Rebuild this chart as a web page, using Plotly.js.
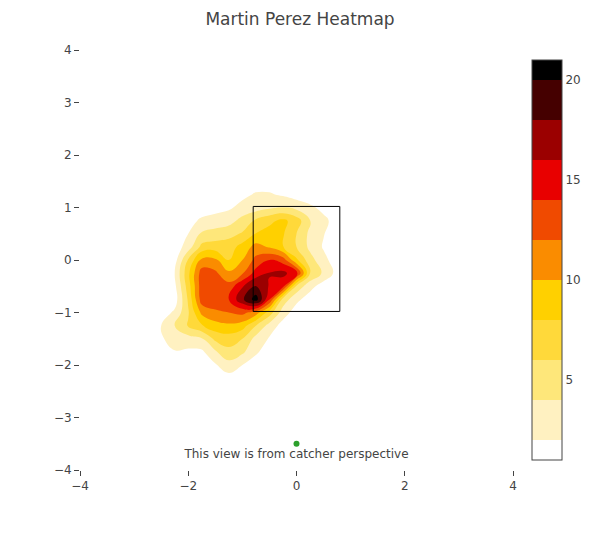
<!DOCTYPE html>
<html>
<head>
<meta charset="utf-8">
<script src="https://cdn.plot.ly/plotly-3.0.1.min.js"></script>
<style>html,body{margin:0;padding:0;background:#fff}</style>
</head>
<body>
<div id="chart" style="width:600px;height:550px"></div>
<script>
const gridX = [-2.75,-2.5,-2.25,-2,-1.75,-1.5,-1.25,-1,-0.75,-0.5,-0.25,0,0.25,0.5,0.75,1];
const gridY = [-2.5,-2.25,-2,-1.75,-1.5,-1.25,-1,-0.75,-0.5,-0.25,0,0.25,0.5,0.75,1,1.25,1.5];
const density = [
 [0,0,0,0,0,0,0.2,0.2,0.1,0,0,0,0,0,0,0],
 [0,0,0,0,0.1,0.5,1.2,0.7,0.3,0.1,0,0,0,0,0,0],
 [0,0,0,0.2,0.7,1.8,3.2,2,1,0.4,0.1,0,0,0,0,0],
 [0,0.6,1.9,1.6,1.6,3.7,5.4,4.4,2.3,1,0.4,0,0,0,0,0],
 [0.4,1.8,2.7,3.2,3.8,6.5,7,6,3.3,1.8,0.8,0.2,0,0,0,0],
 [0.5,2,4,6.2,7.8,9.2,9.6,8.9,6,3.2,1.2,0.4,0,0,0,0],
 [0.1,0.8,2.4,5.8,10.5,11.6,12,12.6,11,7,3,1,0.3,0,0,0],
 [0,0.2,1,6.3,13,13.4,14,17.6,21,14,5.2,2.5,1,0.3,0,0],
 [0,0.2,1.5,7,13.2,13.6,12.8,15.8,18.2,15.8,14.6,5.5,2.7,1,0.3,0],
 [0,0.2,2,7.5,13,12.4,10.4,11.8,14.8,16.1,16.6,14.6,6,3.6,1.3,0.2],
 [0,0.1,1.2,6.2,10.5,10.4,8,10,12.6,14,13,8.4,4.8,2.6,0.9,0.1],
 [0,0,0.8,3,6.6,7,7,8.8,10.7,9.8,8.1,6,3.5,1.8,0.6,0],
 [0,0,0.2,2,4.3,4.8,5.4,6.2,8.1,8.8,8.2,6,3.5,2.1,0.8,0],
 [0,0,0,1.2,2.4,2.8,3.2,4.7,6.3,7.5,8.5,7,4.1,2.6,1,0],
 [0,0,0,0.2,0.8,1.3,1.7,2.6,3,3.6,4,3.4,2.5,1.3,0.3,0],
 [0,0,0,0,0,0.2,0.6,1.5,2.2,2.2,1.7,1,0.4,0,0,0],
 [0,0,0,0,0,0,0.1,0.4,0.9,0.9,0.4,0.1,0,0,0,0]
];
const bandColors = ['#ffffff','#fff1c1','#fee77a','#ffd93a','#ffd000','#fa8c00','#f04a00','#e80000','#9b0000','#450000','#000000'];
const pointX = [0];
const pointY = [-3.5];
const pointText = ['This view is from catcher perspective'];
const zoneX = [-0.8, 0.8];
const zoneY = [-0.98, 1.02];
const axisRange = [-4, 4];

const scale = bandColors.map((c, i) => [i / (bandColors.length - 1), c]);

Plotly.newPlot('chart', [
  {
    type: 'contour', x: gridX, y: gridY, z: density,
    colorscale: scale, zmin: 1, zmax: 21,
    autocontour: false,
    contours: {start: 2, end: 20, size: 2, coloring: 'fill', showlines: false},
    line: {width: 0, smoothing: 1.3},
    colorbar: {thickness: 30}
  },
  {
    type: 'scatter', mode: 'markers+text', x: pointX, y: pointY, text: pointText,
    textposition: 'bottom center', marker: {color: '#2ca02c', size: 6},
    textfont: {size: 12, color: '#444'}, showlegend: false
  }
], {
  width: 600, height: 550,
  font: {family: 'DejaVu Sans, Verdana, sans-serif', color: '#444'},
  title: {text: 'Martin Perez Heatmap'},
  margin: {t: 50, b: 80, l: 80, r: 80},
  xaxis: {range: axisRange, showgrid: false, zeroline: false, showline: false, ticks: 'outside', tickvals: [-4,-2,0,2,4]},
  yaxis: {range: axisRange, showgrid: false, zeroline: false, showline: false, ticks: 'outside', tickvals: [-4,-3,-2,-1,0,1,2,3,4]},
  shapes: [{type: 'rect', x0: zoneX[0], x1: zoneX[1], y0: zoneY[0], y1: zoneY[1], line: {color: '#000', width: 1}}],
  showlegend: false
}, {displayModeBar: false});
</script>
</body>
</html>
